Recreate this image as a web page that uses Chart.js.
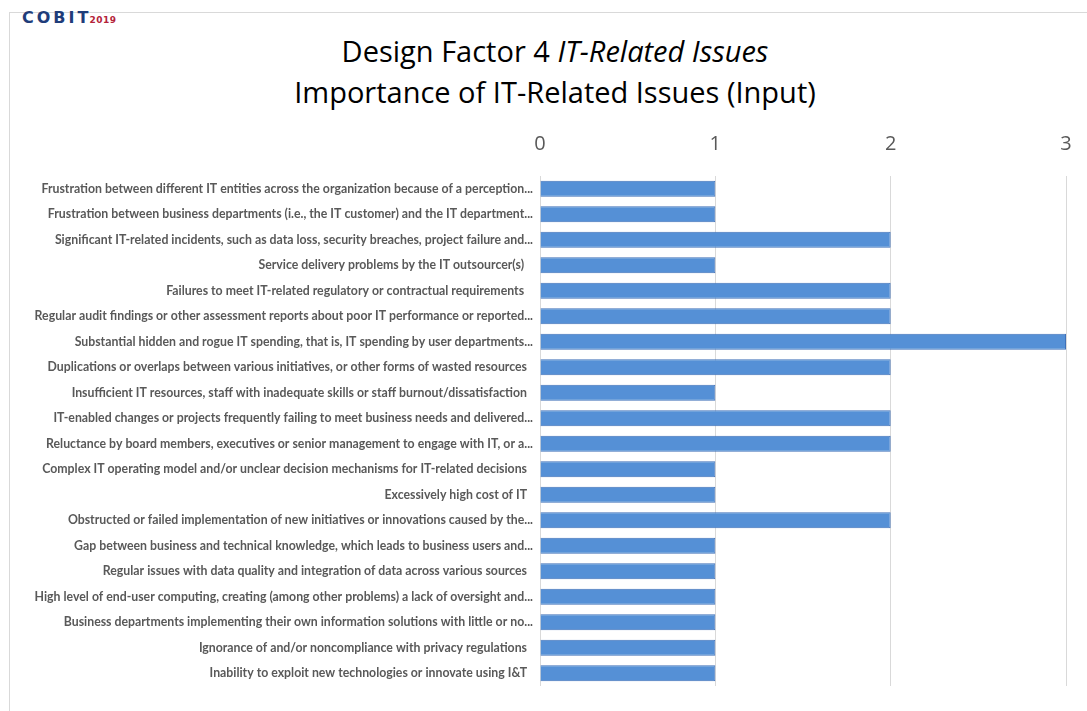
<!DOCTYPE html>
<html>
<head>
<meta charset="utf-8">
<script src="https://cdn.jsdelivr.net/npm/chart.js@4.4.1/dist/chart.umd.min.js"></script>
<style>
  html, body { margin: 0; padding: 0; background: #fff; }
  #wrap { position: relative; width: 1087px; height: 711px; overflow: hidden; }
  #frame { position: absolute; left: 9px; top: 12px; width: 1200px; height: 800px;
           border-left: 1px solid #d9d9d9; border-top: 1px solid #d9d9d9; }
  #logo { position: absolute; left: 22px; top: 8px; font-family: "DejaVu Sans", sans-serif;
          font-weight: bold; color: #1f3d7a; font-size: 16px; letter-spacing: 3px; }
  #logo span { color: #b4233a; font-size: 9px; letter-spacing: 0.5px; margin-left: -2px; }
  #title { position: absolute; left: 0; top: 30px; width: 1110px; text-align: center;
           font-family: "Open Sans", sans-serif; font-size: 29px; line-height: 41px; color: #000; }
  canvas { position: absolute; left: 0; top: 0; }
</style>
</head>
<body>
<div id="wrap">
  <div id="frame"></div>
  <div id="logo">COBIT<span>2019</span></div>
  <div id="title">Design Factor 4 <i>IT-Related Issues</i><br>Importance of IT-Related Issues (Input)</div>
  <canvas id="chart" width="1087" height="711"></canvas>
</div>
<script>
// issue labels as shown in the chart (truncated like the original)
const issues = [
    'Frustration between different IT entities across the organization because of a perception...',
    'Frustration between business departments (i.e., the IT customer) and the IT department...',
    'Significant IT-related incidents, such as data loss, security breaches, project failure and...',
    'Service delivery problems by the IT outsourcer(s)   ',
    'Failures to meet IT-related regulatory or contractual requirements   ',
    'Regular audit findings or other assessment reports about poor IT performance or reported...',
    'Substantial hidden and rogue IT spending, that is, IT spending by user departments...',
    'Duplications or overlaps between various initiatives, or other forms of wasted resources  ',
    'Insufficient IT resources, staff with inadequate skills or staff burnout/dissatisfaction  ',
    'IT-enabled changes or projects frequently failing to meet business needs and delivered...',
    'Reluctance by board members, executives or senior management to engage with IT, or a...',
    'Complex IT operating model and/or unclear decision mechanisms for IT-related decisions  ',
    'Excessively high cost of IT  ',
    'Obstructed or failed implementation of new initiatives or innovations caused by the...',
    'Gap between business and technical knowledge, which leads to business users and...',
    'Regular issues with data quality and integration of data across various sources  ',
    'High level of end-user computing, creating (among other problems) a lack of oversight and...',
    'Business departments implementing their own information solutions with little or no...',
    'Ignorance of and/or noncompliance with privacy regulations  ',
    'Inability to exploit new technologies or innovate using I&T  '
];

const importance = [1, 1, 2, 1, 2, 2, 3, 2, 1, 2, 2, 1, 1, 2, 1, 1, 1, 1, 1, 1];

const axisTicks = [0, 1, 2, 3];

const ctx = document.getElementById('chart').getContext('2d');

new Chart(ctx, {
    type: 'bar',
    data: {
        labels: issues,
        datasets: [{
            label: 'Importance',
            data: importance,
            backgroundColor: '#5590d6',
            borderColor: '#3f70b8',
            borderWidth: 1,
            barPercentage: 0.63,
            categoryPercentage: 1
        }]
    },
    options: {
        indexAxis: 'y',
        responsive: false,
        animation: false,
        layout: { padding: { top: 122, bottom: 25, right: 21, left: 0 } },
        plugins: { legend: { display: false }, tooltip: { enabled: false } },
        scales: {
            x: {
                position: 'top',
                min: axisTicks[0],
                max: axisTicks[axisTicks.length - 1],
                afterBuildTicks: function(scale) {
                    scale.ticks = axisTicks.map(v => ({ value: v }));
                },
                afterFit: function(scale) {
                    scale.height = 54;
                    scale.paddingLeft = 0;
                    scale.paddingRight = 0;
                },
                border: { display: false },
                grid: { color: '#d9d9d9', drawTicks: false },
                ticks: {
                    padding: 20,
                    color: '#595959',
                    font: { family: 'Open Sans', size: 20 }
                }
            },
            y: {
                afterFit: function(scale) { scale.width = 540; },
                border: { display: false },
                grid: { display: false },
                ticks: {
                    padding: -1,
                    autoSkip: false,
                    color: '#595959',
                    font: { family: 'Lato', size: 12.3, weight: 'bold' }
                }
            }
        }
    }
});
</script>
</body>
</html>
